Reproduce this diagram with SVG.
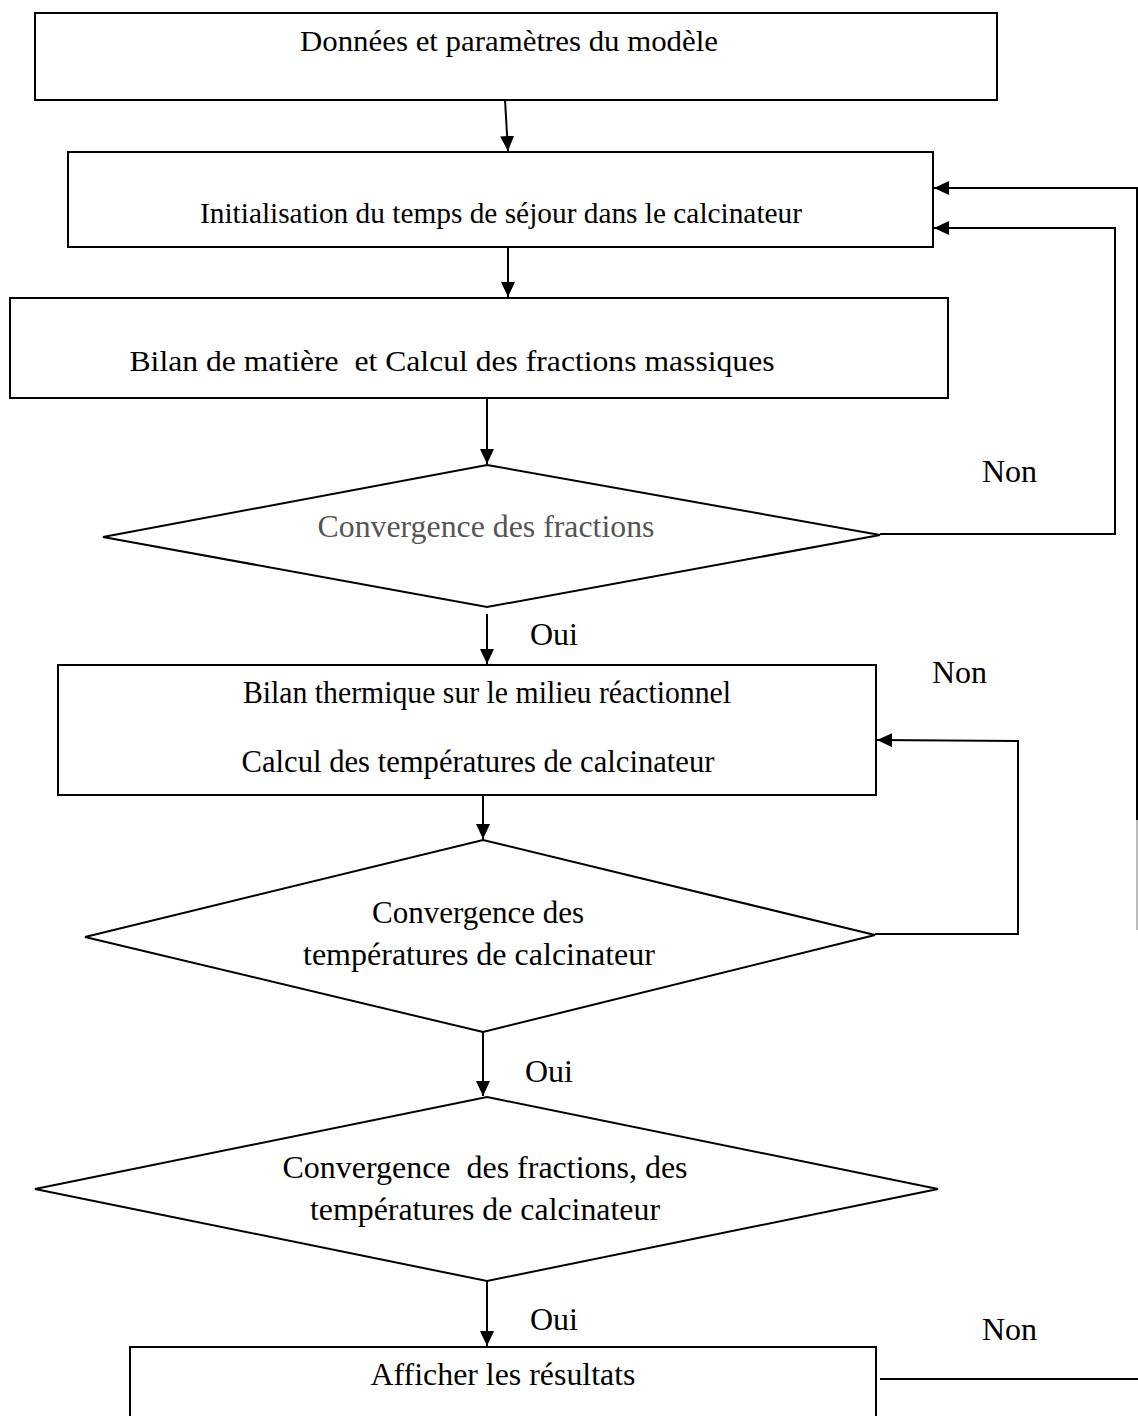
<svg xmlns="http://www.w3.org/2000/svg" width="1138" height="1416" viewBox="0 0 1138 1416">
<defs>
<marker id="ah" markerUnits="userSpaceOnUse" markerWidth="16" markerHeight="14" refX="15" refY="7" orient="auto">
<path d="M0,0 L15,7 L0,14 Z" fill="#000"/>
</marker>
<style>
.n{fill:#fff;stroke:#000;stroke-width:2}
.t{font-family:"Liberation Serif","Times New Roman",serif;font-size:31px;fill:#000;text-anchor:middle}
.l{font-family:"Liberation Serif","Times New Roman",serif;font-size:32px;fill:#000}
.c{fill:none;stroke:#000;stroke-width:2}
</style>
</defs>
<rect width="1138" height="1416" fill="#fff"/>
<g id="n1"><rect class="n" x="35" y="13" width="962" height="87"/><text class="t" x="509" y="51" style="font-size:29px" textLength="418" lengthAdjust="spacingAndGlyphs">Données et paramètres du modèle</text></g>
<g id="n2"><rect class="n" x="68" y="152" width="865" height="95"/><text class="t" x="501" y="223" style="font-size:29px" textLength="602" lengthAdjust="spacingAndGlyphs">Initialisation du temps de séjour dans le calcinateur</text></g>
<g id="n3"><rect class="n" x="10" y="298" width="938" height="100"/><text class="t" x="452" y="371" xml:space="preserve" style="font-size:30px" textLength="645" lengthAdjust="spacingAndGlyphs">Bilan de matière  et Calcul des fractions massiques</text></g>
<g id="n4"><polygon class="n" points="487,465 880,535 487,607 103,537"/><text class="t" x="486" y="537" style="fill:#555;font-size:32px" textLength="337" lengthAdjust="spacingAndGlyphs">Convergence des fractions</text></g>
<g id="n5"><rect class="n" x="58" y="665" width="818" height="130"/><text class="t" x="487" y="703" textLength="488" lengthAdjust="spacingAndGlyphs">Bilan thermique sur le milieu réactionnel</text><text class="t" x="478" y="772" textLength="473" lengthAdjust="spacingAndGlyphs">Calcul des températures de calcinateur</text></g>
<g id="n6"><polygon class="n" points="483,840 875,935 483,1032 85,937"/><text class="t" x="478" y="923">Convergence des</text><text class="t" x="479" y="965" textLength="352" lengthAdjust="spacingAndGlyphs">températures de calcinateur</text></g>
<g id="n7"><polygon class="n" points="487,1097 938,1189 487,1281 35,1189"/><text class="t" x="485" y="1178" xml:space="preserve" textLength="405" lengthAdjust="spacingAndGlyphs">Convergence  des fractions, des</text><text class="t" x="485" y="1220" textLength="350" lengthAdjust="spacingAndGlyphs">températures de calcinateur</text></g>
<g id="n8"><rect class="n" x="130" y="1347" width="746" height="80"/><text class="t" x="503" y="1385" textLength="265" lengthAdjust="spacingAndGlyphs">Afficher les résultats</text></g>
<g id="connectors">
<line class="c" x1="505" y1="100" x2="508" y2="151" marker-end="url(#ah)"/>
<line class="c" x1="508" y1="247" x2="508" y2="297" marker-end="url(#ah)"/>
<line class="c" x1="487" y1="398" x2="487" y2="464" marker-end="url(#ah)"/>
<line class="c" x1="487" y1="614" x2="487" y2="664" marker-end="url(#ah)"/>
<line class="c" x1="483" y1="795" x2="483" y2="839" marker-end="url(#ah)"/>
<line class="c" x1="483" y1="1032" x2="483" y2="1096" marker-end="url(#ah)"/>
<line class="c" x1="487" y1="1281" x2="487" y2="1346" marker-end="url(#ah)"/>
<polyline class="c" points="880,534 1115,534 1115,228 934,228" marker-end="url(#ah)"/>
<polyline class="c" points="1137,820 1137,188 934,188" marker-end="url(#ah)"/>
<line x1="1137" y1="820" x2="1137" y2="930" stroke="#bbb" stroke-width="2"/>
<polyline class="c" points="875,934 1018,934 1018,741 877,740" marker-end="url(#ah)"/>
<line class="c" x1="880" y1="1379" x2="1138" y2="1379"/>
<text class="l" x="982" y="482">Non</text>
<text class="l" x="530" y="645">Oui</text>
<text class="l" x="932" y="683">Non</text>
<text class="l" x="525" y="1082">Oui</text>
<text class="l" x="530" y="1330">Oui</text>
<text class="l" x="982" y="1340">Non</text>
</g>
</svg>
